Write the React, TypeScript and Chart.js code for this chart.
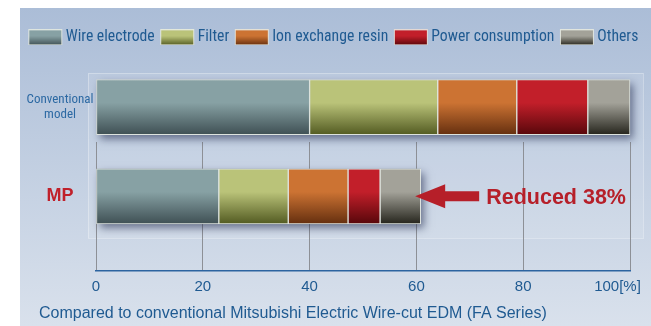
import React, { useEffect, useRef } from 'react';
import { Chart, registerables } from 'chart.js';

Chart.register(...registerables);

// ---- data ----
const categoryLines: string[][] = [['Conventional', 'model'], ['MP']];
const categoryValues = [0, 1];
const seriesNames = ['Wire electrode', 'Filter', 'Ion exchange resin', 'Power consumption', 'Others'];
const wireElectrode = [40, 23];
const filterCost = [24, 13];
const ionExchangeResin = [14.8, 11.2];
const powerConsumption = [13.3, 6];
const others = [7.9, 7.6];
const xTickLabels = ['0', '20', '40', '60', '80', '100[%]'];
const reductionLabel = 'Reduced 38%';
const footerText = 'Compared to conventional Mitsubishi Electric Wire-cut EDM (FA Series)';

const seriesData = [wireElectrode, filterCost, ionExchangeResin, powerConsumption, others];
const seriesColors: [string, string][] = [
  ['#87a1a4', '#3f5054'],
  ['#bac379', '#535b22'],
  ['#cc7333', '#652f0f'],
  ['#c21f2a', '#58070b'],
  ['#a3a299', '#26251d'],
];

const BAR = 55;
const LEFT_PAD = 16;
const BLUE = '#1f5a91';
const COND = 'Roboto, "Open Sans", sans-serif';
const LEGEND_SIZE = 15.7;

function barGradient(ctx: CanvasRenderingContext2D, top: number, bottom: number, colors: [string, string]) {
  const g = ctx.createLinearGradient(0, top, 0, bottom);
  g.addColorStop(0, colors[0]);
  g.addColorStop(0.42, colors[0]);
  g.addColorStop(1, colors[1]);
  return g;
}

function makeSwatch(colors: [string, string]) {
  const W = 40, H = 16, off = 5, bw = 34;
  const cv = document.createElement('canvas');
  cv.width = W;
  cv.height = H;
  const g = cv.getContext('2d')!;
  g.fillStyle = barGradient(g, 0, H, colors);
  g.fillRect(off, 0, bw, H);
  g.strokeStyle = 'rgba(232,236,230,0.9)';
  g.lineWidth = 1;
  g.strokeRect(off + 0.5, 0.5, bw - 1, H - 1);
  return cv;
}

const panelPlugin = {
  id: 'panel',
  beforeDraw(chart: any) {
    const { ctx, width, height } = chart;
    ctx.save();
    ctx.fillStyle = '#ffffff';
    ctx.fillRect(0, 0, width, height);
    const g = ctx.createLinearGradient(0, 8, 0, height);
    g.addColorStop(0, '#abbdd7');
    g.addColorStop(1, '#d9e1ec');
    ctx.fillStyle = g;
    ctx.fillRect(20, 8, width - 20, height - 8);
    ctx.fillStyle = 'rgba(255,255,255,0.1)';
    ctx.fillRect(88, 73, 555, 165);
    ctx.strokeStyle = 'rgba(255,255,255,0.3)';
    ctx.lineWidth = 1;
    ctx.strokeRect(88.5, 73.5, 555, 165);
    ctx.restore();
  },
};

const shadowPlugin = {
  id: 'barShadow',
  beforeDatasetsDraw(chart: any) {
    const { ctx } = chart;
    const first = chart.getDatasetMeta(0);
    const last = chart.getDatasetMeta(seriesData.length - 1);
    ctx.save();
    ctx.shadowColor = 'rgba(20,30,65,0.55)';
    ctx.shadowBlur = 8;
    ctx.shadowOffsetX = 3;
    ctx.shadowOffsetY = 4;
    ctx.fillStyle = '#6b7a80';
    categoryValues.forEach((_, j) => {
      const a = first.data[j];
      const b = last.data[j];
      ctx.fillRect(a.base, a.y - a.height / 2, b.x - a.base, a.height);
    });
    ctx.restore();
  },
};

const annotationPlugin = {
  id: 'reduction',
  afterDatasetsDraw(chart: any) {
    const { ctx } = chart;
    const el = chart.getDatasetMeta(seriesData.length - 1).data[categoryValues.length - 1];
    const tipX = el.x - 5.5;
    const cy = el.y;
    ctx.save();
    ctx.fillStyle = '#b61f29';
    ctx.beginPath();
    ctx.moveTo(tipX, cy);
    ctx.lineTo(tipX + 30, cy - 12);
    ctx.lineTo(tipX + 30, cy - 5);
    ctx.lineTo(tipX + 64, cy - 5);
    ctx.lineTo(tipX + 64, cy + 5);
    ctx.lineTo(tipX + 30, cy + 5);
    ctx.lineTo(tipX + 30, cy + 12);
    ctx.closePath();
    ctx.fill();
    ctx.font = 'bold 21.5px "Liberation Sans", Arial, sans-serif';
    ctx.textBaseline = 'middle';
    ctx.textAlign = 'left';
    ctx.fillText(reductionLabel, tipX + 71, cy + 1.5);
    ctx.restore();
  },
};

const footerPlugin = {
  id: 'footer',
  afterDraw(chart: any) {
    const { ctx } = chart;
    ctx.save();
    ctx.font = '16px "Liberation Sans", Arial, sans-serif';
    ctx.fillStyle = BLUE;
    ctx.textBaseline = 'middle';
    ctx.textAlign = 'left';
    ctx.fillText(footerText, 39, 313.5);
    ctx.restore();
  },
};

export default function App() {
  const ref = useRef<HTMLCanvasElement>(null);

  useEffect(() => {
    const canvas = ref.current;
    if (!canvas) return;
    const swatches = seriesColors.map((c) => makeSwatch(c));

    const chart = new Chart(canvas, {
      type: 'bar',
      data: {
        labels: categoryValues,
        datasets: seriesNames.map((name, i) => ({
          label: name,
          data: seriesData[i],
          backgroundColor: (c: any) => {
            const ys = c.chart.scales.y;
            if (c.type !== 'data' || !ys) return seriesColors[i][0];
            const yc = ys.getPixelForValue(categoryValues[c.dataIndex]);
            return barGradient(c.chart.ctx, yc - BAR / 2, yc + BAR / 2, seriesColors[i]);
          },
          borderColor: 'rgba(234,238,232,0.9)',
          borderWidth: 1,
          borderSkipped: false,
          barThickness: BAR,
          clip: false,
        })) as any,
      },
      options: {
        responsive: false,
        animation: false,
        events: [],
        indexAxis: 'y',
        layout: { padding: { left: LEFT_PAD, right: 0, top: 23.5, bottom: 24.2 } },
        plugins: {
          tooltip: { enabled: false },
          legend: {
            display: true,
            position: 'top',
            labels: {
              usePointStyle: true,
              pointStyleWidth: 29.15,
              boxHeight: 16,
              padding: 6,
              color: BLUE,
              font: { family: COND, size: LEGEND_SIZE, weight: 'condensed' },
              generateLabels: (ch: any) =>
                ch.data.datasets.map((ds: any, i: number) => ({
                  text: ds.label,
                  pointStyle: swatches[i],
                  fillStyle: 'transparent',
                  strokeStyle: 'transparent',
                  lineWidth: 0,
                  hidden: false,
                  datasetIndex: i,
                  fontColor: BLUE,
                })),
            },
          },
          title: {
            display: true,
            text: ' ',
            weight: 500,
            position: 'top',
            font: { size: 10, lineHeight: 1 },
            padding: { top: 0, bottom: 76.8 },
          } as any,
        },
        scales: {
          x: {
            type: 'linear',
            stacked: true,
            min: 0,
            max: 100,
            ticks: {
              stepSize: 20,
              autoSkip: false,
              maxRotation: 0,
              padding: 6.4,
              color: BLUE,
              font: { family: '"Liberation Sans", Arial, sans-serif', size: 15 },
              callback: (_v: any, i: number) =>
                i === xTickLabels.length - 1 ? xTickLabels[i] + '\u00a0'.repeat(6) : xTickLabels[i],
            },
            grid: { color: '#8d9096', lineWidth: 1, drawTicks: false },
            border: { display: true, color: '#2c64a0', width: 1.6 },
            afterFit: (s: any) => {
              s.paddingRight = 21;
            },
          },
          y: {
            type: 'linear',
            stacked: true,
            reverse: true,
            offset: false,
            min: 0.3906,
            max: 1.8384,
            afterBuildTicks: (s: any) => {
              s.ticks = categoryValues.map((v) => ({ value: v }));
            },
            afterFit: (s: any) => {
              s.width = 96 - LEFT_PAD;
            },
            ticks: {
              autoSkip: false,
              crossAlign: 'center',
              padding: 2.5,
              callback: (v: any) => {
                const k = categoryValues.indexOf(Number(v));
                return k >= 0 ? categoryLines[k] : '';
              },
              color: (c: any) => (c.index === 0 ? '#2c69a3' : '#c0202a'),
              font: (c: any) =>
                c.index === 0
                  ? { family: COND, size: 13, weight: 'condensed', lineHeight: 1.2 }
                  : { family: '"Liberation Sans", Arial, sans-serif', size: 18, weight: 'bold' },
            },
            grid: { display: false, drawTicks: false },
            border: { display: false },
          },
        },
      } as any,
      plugins: [panelPlugin, shadowPlugin, annotationPlugin, footerPlugin],
    });
    return () => chart.destroy();
  }, []);

  return (
    <div style={{ position: 'absolute', left: 0, top: 0, width: 651, height: 326 }}>
      <canvas ref={ref} width={651} height={326} style={{ display: 'block', width: 651, height: 326 }} />
    </div>
  );
}
